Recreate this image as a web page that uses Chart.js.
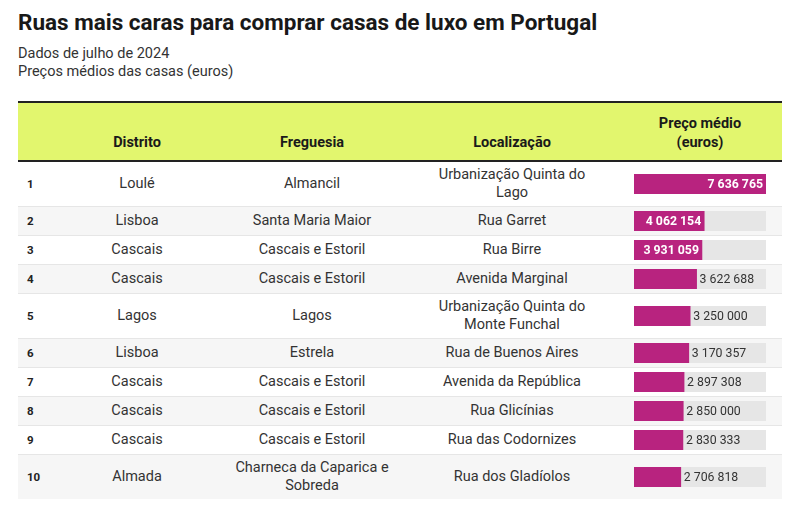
<!DOCTYPE html>
<html>
<head>
<meta charset="utf-8">
<script src="https://cdn.jsdelivr.net/npm/chart.js@4"></script>
<style>
  html, body { margin: 0; padding: 0; background: #fff; }
  body { width: 800px; height: 513px; overflow: hidden; font-family: Roboto, "Noto Sans", sans-serif; color: #333; }
  #wrap { position: absolute; left: 18px; top: 0; width: 764px; }
  h1 { margin: 0; position: absolute; top: 9px; left: 0; font-size: 22.5px; line-height: 26px; font-weight: 700; color: #181818; white-space: nowrap; }
  .sub { position: absolute; top: 45px; left: 0; font-size: 14.5px; line-height: 18px; color: #333; }
  table { position: absolute; top: 101px; left: 0; width: 764px; border-collapse: collapse; table-layout: fixed; }
  thead tr { background: #e2f66e; border-top: 2px solid #222; border-bottom: 2px solid #222; }
  th { font-size: 14.5px; line-height: 19px; font-weight: 700; color: #1a1a1a; text-align: center; vertical-align: bottom; padding: 11px 10px 8px 10px; }
  td { font-size: 14.5px; line-height: 18px; text-align: center; vertical-align: middle; padding: 4px 10px; white-space: pre-line; color: #333; }
  tbody tr { border-bottom: 1px solid #e6e6e6; }
  tbody tr:nth-child(even) { background: #f6f6f6; }
  tbody tr:last-child { border-bottom: none; }
  td.rank { text-align: left; padding-left: 9px; font-size: 11.5px; font-weight: 700; color: #222; }
  th.price, td.price { padding-left: 35px; padding-right: 16px; }
  .barbox { position: relative; width: 132px; height: 20px; }
</style>
</head>
<body>
<div id="wrap">
  <h1>Ruas mais caras para comprar casas de luxo em Portugal</h1>
  <div class="sub">Dados de julho de 2024<br>Preços médios das casas (euros)</div>
  <table>
    <colgroup>
      <col style="width:57px"><col style="width:124px"><col style="width:226px"><col style="width:174px"><col style="width:183px">
    </colgroup>
    <thead>
      <tr>
        <th></th>
        <th id="h1"></th>
        <th id="h2"></th>
        <th id="h3"></th>
        <th id="h4" class="price"></th>
      </tr>
    </thead>
    <tbody id="tb"></tbody>
  </table>
</div>
<script>
// ---- Data ----
const headers = ["Distrito", "Freguesia", "Localização", "Preço médio\n(euros)"];
const ranks = [1, 2, 3, 4, 5, 6, 7, 8, 9, 10];
const distritos = ["Loulé", "Lisboa", "Cascais", "Cascais", "Lagos", "Lisboa", "Cascais", "Cascais", "Cascais", "Almada"];
const freguesias = ["Almancil", "Santa Maria Maior", "Cascais e Estoril", "Cascais e Estoril", "Lagos", "Estrela", "Cascais e Estoril", "Cascais e Estoril", "Cascais e Estoril", "Charneca da Caparica e\nSobreda"];
const localizacoes = ["Urbanização Quinta do\nLago", "Rua Garret", "Rua Birre", "Avenida Marginal", "Urbanização Quinta do\nMonte Funchal", "Rua de Buenos Aires", "Avenida da República", "Rua Glicínias", "Rua das Codornizes", "Rua dos Gladíolos"];
const precos = [7636765, 4062154, 3931059, 3622688, 3250000, 3170357, 2897308, 2850000, 2830333, 2706818];

// ---- Styles ----
const BAR_COLOR = "#b8237f";
const TRACK_COLOR = "#e6e6e6";
const maxPreco = Math.max(...precos);

function fmt(v) { return String(v).replace(/\B(?=(\d{3})+(?!\d))/g, " "); }

document.getElementById("h1").textContent = headers[0];
document.getElementById("h2").textContent = headers[1];
document.getElementById("h3").textContent = headers[2];
const h4 = document.getElementById("h4");
h4.style.whiteSpace = "pre-line";
h4.textContent = headers[3];

const tb = document.getElementById("tb");
ranks.forEach((r, i) => {
  const tr = document.createElement("tr");
  const cells = [r, distritos[i], freguesias[i], localizacoes[i]];
  cells.forEach((c, j) => {
    const td = document.createElement("td");
    if (j === 0) td.className = "rank";
    td.textContent = c;
    tr.appendChild(td);
  });
  const td = document.createElement("td");
  td.className = "price";
  const box = document.createElement("div");
  box.className = "barbox";
  const cv = document.createElement("canvas");
  box.appendChild(cv);
  td.appendChild(box);
  tr.appendChild(td);
  tb.appendChild(tr);
  tr._canvas = cv;
  tr._idx = i;
});

const labelPlugin = {
  id: "valueLabel",
  afterDatasetsDraw(chart) {
    const ctx = chart.ctx;
    const meta = chart.getDatasetMeta(0);
    const bar = meta.data[0];
    const v = chart.data.datasets[0].data[0];
    const txt = fmt(v);
    const left = chart.chartArea.left;
    const barW = bar.x - left;
    ctx.save();
    ctx.textBaseline = "middle";
    ctx.font = "700 12.3px Roboto";
    const wBold = ctx.measureText(txt).width;
    if (barW > wBold + 10) {
      ctx.fillStyle = "#ffffff";
      ctx.textAlign = "right";
      ctx.fillText(txt, bar.x - 3, bar.y + 0.5);
    } else {
      ctx.font = "400 12.3px Roboto";
      ctx.fillStyle = "#333333";
      ctx.textAlign = "left";
      ctx.fillText(txt, bar.x + 3, bar.y + 0.5);
    }
    ctx.restore();
  }
};

Array.from(tb.children).forEach(tr => {
  const i = tr._idx;
  new Chart(tr._canvas, {
    type: "bar",
    data: {
      labels: [String(ranks[i])],
      datasets: [
        { data: [precos[i]], backgroundColor: BAR_COLOR, grouped: false, categoryPercentage: 1, barPercentage: 1, borderWidth: 0 },
        { data: [maxPreco], backgroundColor: TRACK_COLOR, grouped: false, categoryPercentage: 1, barPercentage: 1, borderWidth: 0 }
      ]
    },
    options: {
      indexAxis: "y",
      responsive: true,
      maintainAspectRatio: false,
      animation: false,
      events: [],
      layout: { padding: 0 },
      scales: {
        x: { display: false, min: 0, max: maxPreco },
        y: { display: false }
      },
      plugins: { legend: { display: false }, tooltip: { enabled: false } }
    },
    plugins: [labelPlugin]
  });
});
</script>
</body>
</html>
